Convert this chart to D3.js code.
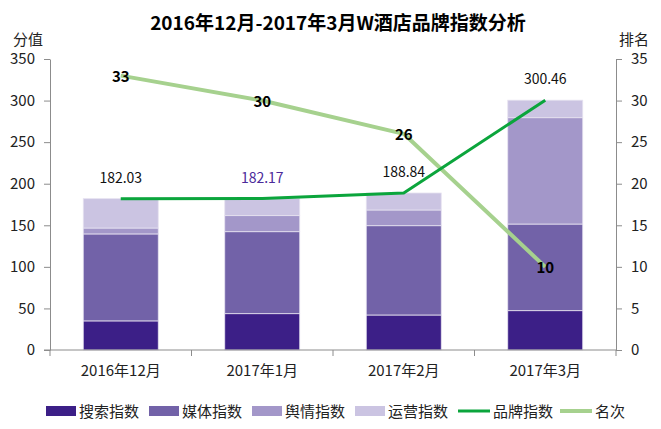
<!DOCTYPE html>
<html lang="zh">
<head>
    <meta charset="UTF-8">
    <title>W酒店品牌指数分析</title>
    <script src="https://d3js.org/d3.v7.min.js"></script>
    <style>
        body {margin: 0; background: #fff;}
        text {font-family: "Noto Sans CJK SC", "Noto Sans", sans-serif; fill: #222;}
        .domain, .tick line {stroke: #8c8c8c;}
    </style>
</head>
<body>
<div id="chart"></div>
<script>

    // data
    var months = ["2016年12月", "2017年1月", "2017年2月", "2017年3月"];
    var search = [35.0, 43.7, 42.1, 47.3];
    var media = [104.6, 98.6, 107.4, 104.2];
    var yuqing = [7.1, 19.3, 18.9, 127.9];
    var ops = [35.33, 20.57, 20.44, 21.06];
    var brand = [182.03, 182.17, 188.84, 300.46];
    var rank = [33, 30, 26, 10];
    var leftTicks = [0, 50, 100, 150, 200, 250, 300, 350];
    var rightTicks = [0, 5, 10, 15, 20, 25, 30, 35];

    var seriesNames = ["搜索指数", "媒体指数", "舆情指数", "运营指数"];
    var colors = ["#3c1f87", "#7262a8", "#a397c9", "#cbc4e2"];
    var brandColor = "#0ba53c",
        rankColor = "#a6d18e";

    var W = 661, H = 429;
    var margin = {top: 59, right: 45, bottom: 79, left: 50},
        width = W - margin.left - margin.right,
        height = H - margin.top - margin.bottom;

    var svg = d3.select("#chart").append("svg")
        .attr("width", W)
        .attr("height", H);

    var g = svg.append("g")
        .attr("transform", "translate(" + margin.left + "," + margin.top + ")");

    var x = d3.scaleBand()
        .domain(months)
        .range([0, width])
        .paddingInner(0.47)
        .paddingOuter(0.235);

    var y = d3.scaleLinear().domain([0, 350]).range([height, 0]);
    var y2 = d3.scaleLinear().domain([0, 35]).range([height, 0]);

    // stacked rows
    var rows = months.map(function(m, i) {
        return {month: m, s0: search[i], s1: media[i], s2: yuqing[i], s3: ops[i]};
    });
    var stack = d3.stack().keys(["s0", "s1", "s2", "s3"]);
    var layers = stack(rows);

    g.selectAll(".layer")
        .data(layers)
        .enter().append("g")
        .attr("class", "layer")
        .attr("fill", function(d, i) {return colors[i]})
        .selectAll("rect")
        .data(function(d) {return d})
        .enter().append("rect")
        .attr("x", function(d) {return x(d.data.month)})
        .attr("width", x.bandwidth())
        .attr("y", function(d) {return y(d[1])})
        .attr("height", function(d) {return y(d[0]) - y(d[1])})
        .attr("stroke", "#e6e2f0")
        .attr("stroke-width", 0.8);

    // axes
    var xAxis = g.append("g")
        .attr("transform", "translate(0," + height + ")")
        .call(d3.axisBottom(x).tickSize(0).tickFormat(""));
    xAxis.select(".domain").remove();
    xAxis.append("line")
        .attr("x1", -6).attr("x2", width)
        .attr("stroke", "#8c8c8c");
    // ticks between categories
    var bounds = months.map(function(m) {return x(m) - x.step() * x.paddingInner() / 2});
    bounds.push(width);
    xAxis.selectAll(".sep")
        .data(bounds)
        .enter().append("line")
        .attr("class", "sep")
        .attr("x1", function(d) {return d}).attr("x2", function(d) {return d})
        .attr("y1", 0).attr("y2", 6)
        .attr("stroke", "#8c8c8c");
    xAxis.selectAll(".mlabel")
        .data(months)
        .enter().append("text")
        .attr("class", "mlabel")
        .attr("x", function(d) {return x(d) + x.bandwidth() / 2})
        .attr("y", 26)
        .attr("text-anchor", "middle")
        .style("font-size", "15px")
        .text(function(d) {return d});

    var yAxis = g.append("g")
        .call(d3.axisLeft(y).tickValues(leftTicks).tickSize(6).tickPadding(9).tickSizeOuter(0));
    yAxis.selectAll("text").style("font-size", "15px").attr("fill", "#222");

    var yAxis2 = g.append("g")
        .attr("transform", "translate(" + width + ",0)")
        .call(d3.axisRight(y2).tickValues(rightTicks).tickSize(6).tickPadding(9).tickSizeOuter(0));
    yAxis2.selectAll("text").style("font-size", "15px").attr("fill", "#222");

    g.append("text").attr("x", -22).attr("y", -14).attr("text-anchor", "middle")
        .style("font-size", "15px").text("分值");
    g.append("text").attr("x", width + 18).attr("y", -14).attr("text-anchor", "middle")
        .style("font-size", "15px").text("排名");

    // lines
    var cx = function(i) {return x(months[i]) + x.bandwidth() / 2};

    var brandLine = d3.line()
        .x(function(d, i) {return cx(i)})
        .y(function(d) {return y(d)});
    var rankLine = d3.line()
        .x(function(d, i) {return cx(i)})
        .y(function(d) {return y2(d)});

    g.append("path")
        .datum(rank)
        .attr("d", rankLine)
        .attr("fill", "none")
        .attr("stroke", rankColor)
        .attr("stroke-width", 4)
        .attr("stroke-linejoin", "round");

    g.append("path")
        .datum(brand)
        .attr("d", brandLine)
        .attr("fill", "none")
        .attr("stroke", brandColor)
        .attr("stroke-width", 3)
        .attr("stroke-linejoin", "round");

    g.selectAll(".blabel")
        .data(brand)
        .enter().append("text")
        .attr("class", "blabel")
        .attr("x", function(d, i) {return cx(i)})
        .attr("y", function(d) {return y(d) - 16})
        .attr("text-anchor", "middle")
        .style("font-size", "14px")
        .style("fill", function(d, i) {return i == 1 ? "#4b2a9a" : "#111"})
        .text(function(d) {return d.toFixed(2)});

    g.selectAll(".rlabel")
        .data(rank)
        .enter().append("text")
        .attr("class", "rlabel")
        .attr("x", function(d, i) {return cx(i)})
        .attr("y", function(d) {return y2(d) + 6})
        .attr("text-anchor", "middle")
        .style("font-size", "15px")
        .style("font-weight", "bold")
        .style("fill", "#000")
        .text(function(d) {return d});

    // title
    svg.append("text")
        .attr("x", 338).attr("y", 30)
        .attr("text-anchor", "middle")
        .style("font-size", "19px")
        .style("font-weight", "bold")
        .style("fill", "#000")
        .text("2016年12月-2017年3月W酒店品牌指数分析");

    // legend
    var legendItems = seriesNames.map(function(n, i) {return {name: n, color: colors[i], type: "box"}})
        .concat([{name: "品牌指数", color: brandColor, type: "line", w: 3},
                 {name: "名次", color: rankColor, type: "line", w: 4}]);
    var legendX = [46, 149, 252, 355, 458, 560];

    var legend = svg.selectAll(".legend")
        .data(legendItems)
        .enter().append("g")
        .attr("class", "legend")
        .attr("transform", function(d, i) {return "translate(" + legendX[i] + ",411)"});

    legend.filter(function(d) {return d.type == "box"})
        .append("rect")
        .attr("y", -5).attr("width", 30).attr("height", 10)
        .attr("fill", function(d) {return d.color});
    legend.filter(function(d) {return d.type == "line"})
        .append("line")
        .attr("x1", 0).attr("x2", 32)
        .attr("stroke", function(d) {return d.color})
        .attr("stroke-width", function(d) {return d.w});
    legend.append("text")
        .attr("x", function(d) {return d.type == "box" ? 33 : 35})
        .attr("y", 6)
        .style("font-size", "15px")
        .text(function(d) {return d.name});

</script>
</body>
</html>
